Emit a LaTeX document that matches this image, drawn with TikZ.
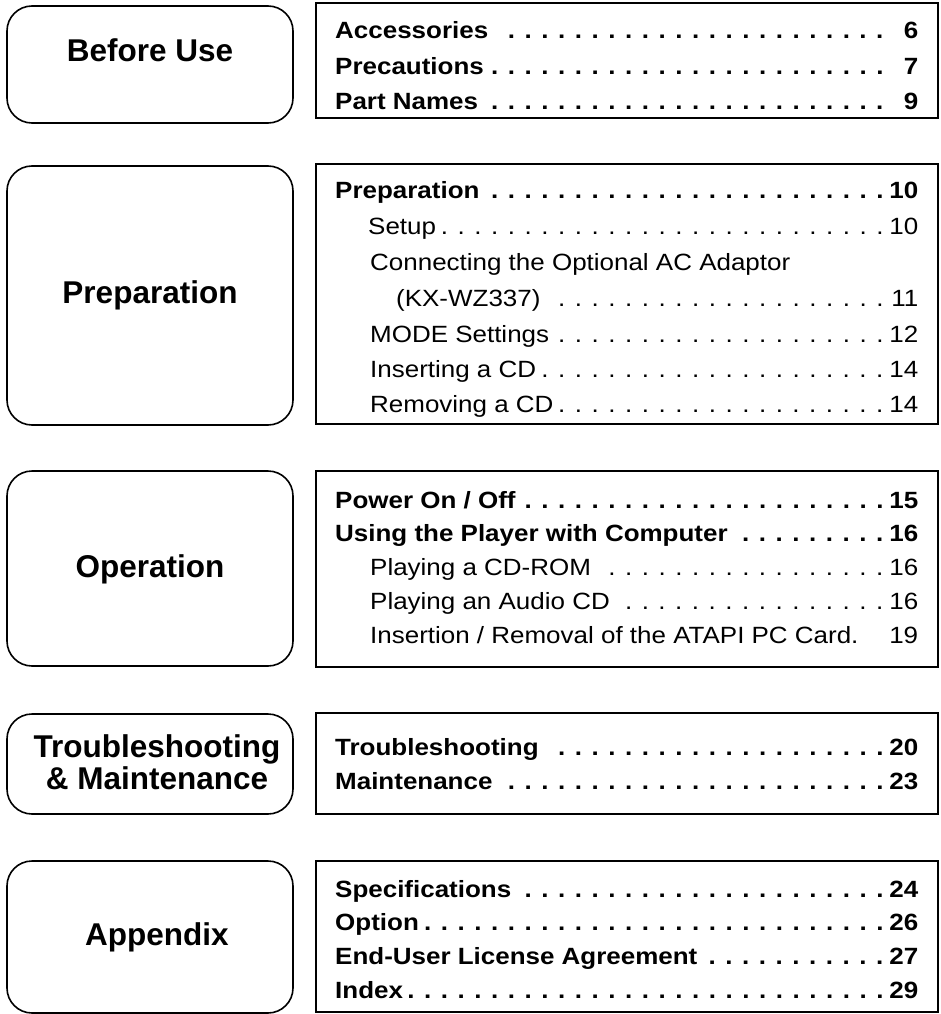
\documentclass[tikz,border=0pt]{standalone}
\usepackage{fontspec}
\setmainfont{Liberation Sans}
\newfontfamily\tocfont{Liberation Sans}[FakeStretch=1.105]
\newcommand{\tocline}[3]{\hbox to 583pt{\kern-15.44pt\hbox to 598.44pt{\kern15.44pt\hspace*{#1}#2\leaders\hbox to 16.74pt{\kern4pt.\hss}\hfill\hbox to 29pt{\hss#3}}}}

\begin{document}
\begin{tikzpicture}[x=1pt, y=-1pt,
    chapbox/.style={draw, line width=1.6pt, rounded corners=25pt, minimum width=286pt},
    pagebox/.style={draw, line width=1.6pt, minimum width=622pt},
    chaptitle/.style={font=\fontsize{31.5}{32}\selectfont\bfseries, inner sep=0pt, align=center},
    mainentry/.style={font=\tocfont\fontsize{23.5}{34}\selectfont\bfseries, inner sep=0pt, anchor=base west},
    subentry/.style={font=\tocfont\fontsize{23.5}{34}\selectfont, inner sep=0pt, anchor=base west}]
            \useasboundingbox (0,0) rectangle (940,1014);
            % Before Use
            \node[chapbox, minimum height=117pt] (beforebox) at (150,64.5) {};
            \node[chaptitle, anchor=base] (beforetitle) at (150,62) {Before Use};
            \node[pagebox, minimum height=115pt] (beforelist) at (627,60.5) {};
            \node[mainentry] (accessories) at (335,38.5) {\tocline{0pt}{Accessories}{6}};
            \node[mainentry] (precautions) at (335,74.5) {\tocline{0pt}{Precautions}{7}};
            \node[mainentry] (partnames) at (335,110) {\tocline{0pt}{Part Names}{9}};

            % Preparation
            \node[chapbox, minimum height=259pt] (prepbox) at (150,295.5) {};
            \node[chaptitle, anchor=base] (preptitle) at (150,303) {Preparation};
            \node[pagebox, minimum height=260pt] (preplist) at (627,294) {};
            \node[mainentry] (preparation) at (335,198) {\tocline{0pt}{Preparation}{10}};
            \node[subentry] (setup) at (335,234) {\tocline{33pt}{Setup}{10}};
            \node[subentry] (connecting) at (370,270) {Connecting the Optional AC Adaptor};
            \node[subentry] (adaptor) at (335,306) {\tocline{61pt}{(KX-WZ337)}{11}};
            \node[subentry] (mode) at (335,342) {\tocline{35pt}{MODE Settings}{12}};
            \node[subentry] (inserting) at (335,377) {\tocline{35pt}{Inserting a CD}{14}};
            \node[subentry] (removing) at (335,412) {\tocline{35pt}{Removing a CD}{14}};

            % Operation
            \node[chapbox, minimum height=195pt] (opbox) at (150,568.5) {};
            \node[chaptitle, anchor=base] (optitle) at (150,577) {Operation};
            \node[pagebox, minimum height=196pt] (oplist) at (627,569) {};
            \node[mainentry] (poweronoff) at (335,508) {\tocline{0pt}{Power On / Off}{15}};
            \node[mainentry] (computer) at (335,541.8) {\tocline{0pt}{Using the Player with Computer}{16}};
            \node[subentry] (cdrom) at (335,575.6) {\tocline{35pt}{Playing a CD-ROM}{16}};
            \node[subentry] (audiocd) at (335,609.4) {\tocline{35pt}{Playing an Audio CD}{16}};
            \node[subentry] (pccard) at (335,643.2) {\hbox to 583pt{\hspace*{35pt}Insertion / Removal of the ATAPI PC Card.\hfill 19}};

            % Troubleshooting & Maintenance
            \node[chapbox, minimum height=100pt] (troublebox) at (150,764) {};
            \node[chaptitle] (troubletitle) at (157,762) {Troubleshooting\\\& Maintenance};
            \node[pagebox, minimum height=101pt] (troublelist) at (627,763.5) {};
            \node[mainentry] (troubleshooting) at (335,755) {\tocline{0pt}{Troubleshooting}{20}};
            \node[mainentry] (maintenance) at (335,789) {\tocline{0pt}{Maintenance}{23}};

            % Appendix
            \node[chapbox, minimum height=152pt] (appbox) at (150,937) {};
            \node[chaptitle, anchor=base] (apptitle) at (157,945) {Appendix};
            \node[pagebox, minimum height=151pt] (applist) at (627,936.5) {};
            \node[mainentry] (specifications) at (335,897) {\tocline{0pt}{Specifications}{24}};
            \node[mainentry] (option) at (335,930.7) {\tocline{0pt}{Option}{26}};
            \node[mainentry] (license) at (335,964.4) {\tocline{0pt}{End-User License Agreement}{27}};
            \node[mainentry] (index) at (335,998.1) {\tocline{0pt}{Index}{29}};
        \end{tikzpicture}
\end{document}
